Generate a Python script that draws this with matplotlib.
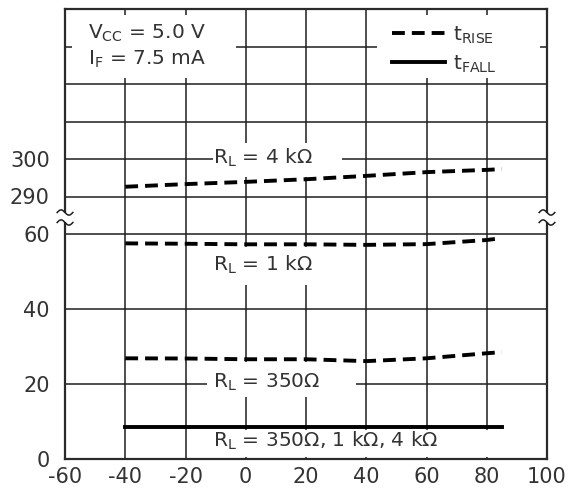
import numpy as np
import matplotlib.pyplot as plt
from matplotlib.patches import Rectangle

plt.rcParams['font.family'] = ['DejaVu Sans']
plt.rcParams['mathtext.fontset'] = 'dejavusans'

# temperature (C) vs switching time (ns)
temps = [-40, -20, 0, 20, 40, 60, 80, 85]
rise_4k = [292.6, 293.3, 293.9, 294.6, 295.5, 296.5, 297.1, 297.3]
rise_1k = [57.5, 57.4, 57.25, 57.25, 57.1, 57.3, 58.4, 58.9]
rise_350 = [26.85, 26.8, 26.6, 26.6, 26.1, 26.85, 28.2, 28.5]
fall_all = [8.6, 8.6, 8.6, 8.6, 8.6, 8.6, 8.6, 8.6]

x_ticks = [-60, -40, -20, 0, 20, 40, 60, 80, 100]
y_ticks = [0, 20, 40, 60, 290, 300]
y_grid = [20, 40, 60, 290, 300, 310, 320, 330]

TXT = '#333333'
GRID = '#1e1e1e'


def yb(v):
    # broken axis: 60..290 squeezed into one grid step
    v = np.asarray(v, dtype=float)
    return np.where(v > 100, v - 220, v)


def px(x):
    return -60 + (x - 65) * 160 / 482


def py(y):
    return (459 - y) / 3.75


fig = plt.figure(figsize=(5.76, 4.92), dpi=100)
ax = fig.add_axes([65 / 576, 1 - 459 / 492, 482 / 576, 450 / 492])
ax.set_xlim(-60, 100)
ax.set_ylim(0, 120)

for g in y_grid:
    ax.axhline(yb(g), color=GRID, lw=1.1, zorder=1)
for g in x_ticks[1:-1]:
    ax.axvline(g, color=GRID, lw=1.1, zorder=1)

# white areas where the labels cut the grid
masks = [(72, 236, 15, 78), (377, 540, 15, 78), (213, 342, 143, 177),
         (210, 345, 247, 285), (207, 356, 362, 397), (207, 505, 430, 457)]
for x0, x1, y0, y1 in masks:
    ax.add_patch(Rectangle((px(x0), py(y1)), px(x1) - px(x0), py(y0) - py(y1),
                           facecolor='white', edgecolor='none', zorder=2))

dash = (3.3, 1.8)
for ser in [rise_4k, rise_1k, rise_350]:
    ax.plot(temps, yb(ser), color='black', lw=2.8, dashes=dash, zorder=3)
ax.plot(temps, yb(fall_all), color='black', lw=2.8, zorder=3)

fs = 14.5
ax.text(px(213), py(158), r'R$_{\mathregular{L}}$ = 4 k$\Omega$', fontsize=fs, color=TXT,
        va='center', ha='left', zorder=4)
ax.text(px(213), py(265), r'R$_{\mathregular{L}}$ = 1 k$\Omega$', fontsize=fs, color=TXT,
        va='center', ha='left', zorder=4)
ax.text(px(213), py(382), r'R$_{\mathregular{L}}$ = 350$\Omega$', fontsize=fs, color=TXT,
        va='center', ha='left', zorder=4)
ax.text(px(213), py(441), r'R$_{\mathregular{L}}$ = 350$\Omega$, 1 k$\Omega$, 4 k$\Omega$',
        fontsize=fs, color=TXT, va='center', ha='left', zorder=4)

ax.text(px(88), py(33), r'V$_{\mathregular{CC}}$ = 5.0 V', fontsize=fs, color=TXT,
        va='center', ha='left', zorder=4)
ax.text(px(88), py(59), r'I$_{\mathregular{F}}$ = 7.5 mA', fontsize=fs, color=TXT,
        va='center', ha='left', zorder=4)

# legend
ax.plot([px(392), px(445)], [py(33), py(33)], color='black', lw=2.8, dashes=dash, zorder=4)
ax.plot([px(392), px(445)], [py(62), py(62)], color='black', lw=2.8, zorder=4)
ax.text(px(453), py(35), r't$_{\mathregular{RISE}}$', fontsize=fs, color=TXT,
        va='center', ha='left', zorder=4)
ax.text(px(453), py(64), r't$_{\mathregular{FALL}}$', fontsize=fs, color=TXT,
        va='center', ha='left', zorder=4)

ax.set_xticks(x_ticks)
ax.set_xticklabels([str(t) for t in x_ticks])
ax.set_yticks(yb(y_ticks))
ax.set_yticklabels([str(t) for t in y_ticks])
ax.tick_params(length=0, labelsize=15, labelcolor=TXT)
ax.tick_params(axis='y', pad=11)
ax.tick_params(axis='x', pad=6)
for s in ax.spines.values():
    s.set_color('#2a2a2a')
    s.set_linewidth(1.6)

# axis break marks
t = np.linspace(0, 1, 30)
for xc in [-60, 100]:
    ax.add_patch(Rectangle((xc - 1.2, py(222)), 2.4, py(213) - py(222), facecolor='white',
                           edgecolor='none', zorder=5, clip_on=False))
    for yc in [py(212.5), py(222.5)]:
        ax.plot(xc - 2.6 + 5.2 * t, yc + 0.7 * np.sin(2 * np.pi * t),
                color=GRID, lw=1.1, zorder=6, clip_on=False)

fig.savefig('out.png', dpi=100)
